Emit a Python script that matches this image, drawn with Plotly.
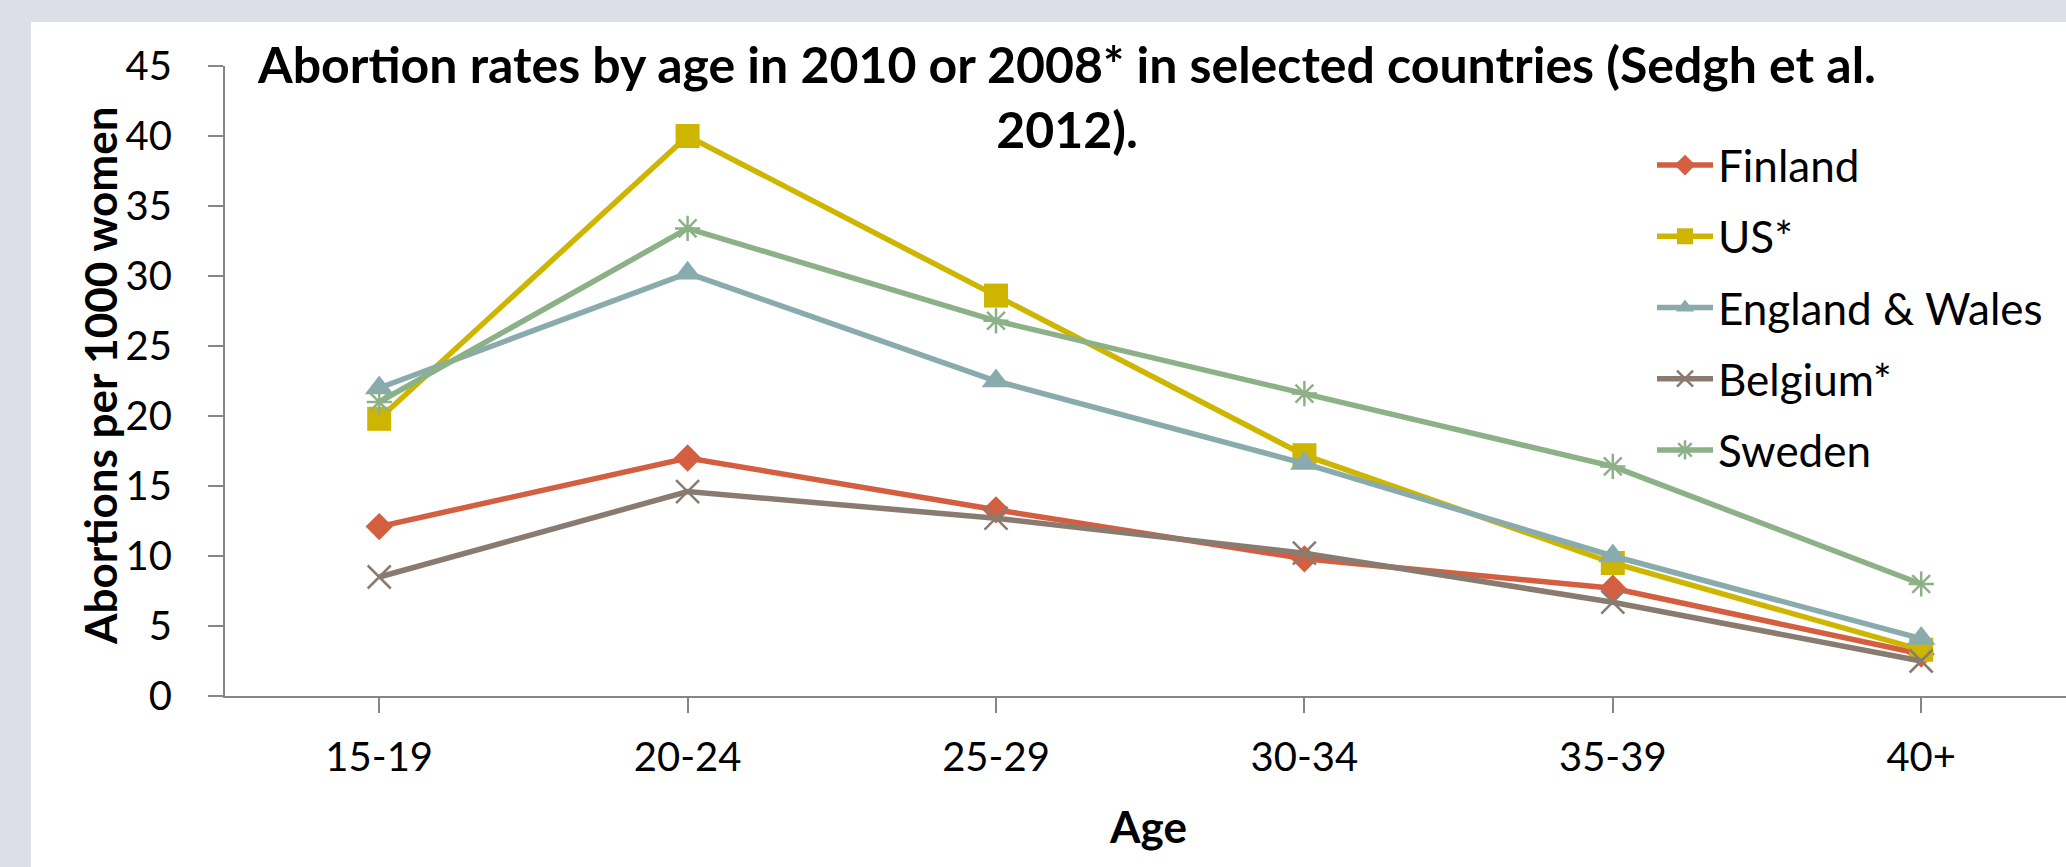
import plotly.graph_objects as go

ages = ["15-19", "20-24", "25-29", "30-34", "35-39", "40+"]
finland = [12.1, 17.0, 13.3, 9.8, 7.7, 3.0]
us = [19.8, 40.0, 28.6, 17.2, 9.5, 3.3]
england_wales = [22.0, 30.2, 22.5, 16.6, 10.0, 4.1]
belgium = [8.5, 14.6, 12.7, 10.2, 6.7, 2.5]
sweden = [21.0, 33.4, 26.8, 21.6, 16.4, 8.0]

series = [
    ("Finland", finland, "#D35F40", "diamond", 21, 0),
    ("US*", us, "#CDB500", "square", 24, 0),
    ("England & Wales", england_wales, "#8AABAD", "triangle-up", 25, 0),
    ("Belgium*", belgium, "#8A7B70", "x-thin", 23, 2.5),
    ("Sweden", sweden, "#8DB187", "asterisk", 21, 2.5),
]

W, H = 2066, 867
ML, MR, MT, MB = 225, 0, 66, 171
pw = W - ML - MR
ph = H - MT - MB

FONT = "Lato"

fig = go.Figure()
for i, (name, vals, col, sym, sz, lw) in enumerate(series):
    xs = list(range(len(ages)))
    if lw:
        marker = dict(symbol=sym, size=sz, color=col, line=dict(width=lw, color=col))
    else:
        marker = dict(symbol=sym, size=sz, color=col, line=dict(width=0))
    fig.add_trace(go.Scatter(
        x=xs, y=vals, name=name, mode="lines+markers",
        line=dict(color=col, width=5.5), marker=marker,
        legendgroup="g%d" % i, cliponaxis=False,
    ))

cat_px = 308.4
xmax = -0.5 + pw / cat_px

fig.update_layout(
    width=W, height=H,
    margin=dict(l=ML, r=MR, t=MT, b=MB, pad=0),
    paper_bgcolor="#DCDFE8",
    plot_bgcolor="rgba(0,0,0,0)",
    font=dict(family=FONT, size=40, color="#000000"),
    showlegend=True,
    legend=dict(
        x=(1652 - ML) / pw, xanchor="left",
        y=(696 - 130) / ph, yanchor="top",
        bgcolor="rgba(0,0,0,0)", borderwidth=0,
        font=dict(family=FONT, size=44, color="#000000"),
        itemwidth=56, tracegroupgap=11,
    ),
    xaxis=dict(
        range=[-0.5, xmax], tickmode="array",
        tickvals=list(range(len(ages))), ticktext=ages,
        showgrid=False, zeroline=False,
        showline=True, linecolor="#868686", linewidth=2,
        ticks="outside", ticklen=15, tickcolor="#868686", tickwidth=2,
        tickson="boundaries",
        tickfont=dict(family=FONT, size=40, color="#000000"),
        ticklabelstandoff=10,
    ),
    yaxis=dict(
        range=[0, 45], tickmode="linear", tick0=0, dtick=5,
        showgrid=False, zeroline=False,
        showline=True, linecolor="#868686", linewidth=2,
        ticks="outside", ticklen=15, tickcolor="#868686", tickwidth=2,
        tickfont=dict(family=FONT, size=40, color="#000000"),
        ticklabelstandoff=28,
    ),
    shapes=[dict(
        type="rect", xref="paper", yref="paper", layer="below",
        x0=(31 - ML) / pw, x1=1.05,
        y0=(696 - H - 10) / ph, y1=(696 - 22) / ph,
        fillcolor="#FFFFFF", line=dict(width=0),
    )],
    annotations=[
        dict(text="<b>Abortion rates by age in 2010 or 2008* in selected countries (Sedgh et al.<br>2012).</b>",
             xref="paper", yref="paper", x=(1066 - ML) / pw, y=(696 - 32) / ph,
             xanchor="center", yanchor="top", showarrow=False, align="center",
             font=dict(family=FONT, size=50, color="#000000")),
        dict(text="<b>Age</b>", xref="paper", yref="paper",
             x=(1148 - ML) / pw, y=(696 - 826) / ph, xanchor="center", yanchor="middle",
             showarrow=False, font=dict(family=FONT, size=44, color="#000000")),
        dict(text="<b>Abortions per 1000 women</b>", xref="paper", yref="paper",
             x=(100 - ML) / pw, y=(696 - 376) / ph, xanchor="center", yanchor="middle",
             textangle=-90, showarrow=False,
             font=dict(family=FONT, size=44, color="#000000")),
    ],
)

fig.write_html("out.html")
